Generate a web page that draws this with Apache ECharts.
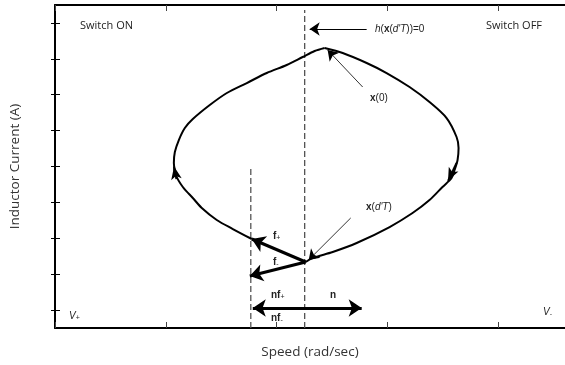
<!DOCTYPE html>
<html><head><meta charset="utf-8">
<script src="https://cdn.jsdelivr.net/npm/echarts@6/dist/echarts.min.js"></script>
<style>html,body{margin:0;padding:0;background:#fff}#c{width:565px;height:365px}</style>
</head><body><div id="c"></div><script>
// ---- data (axis units: x ticks every 1, y ticks at 0.5, 1.5, ... 8.5) ----
const yTickSlots = ['', '', '', '', '', '', '', '', ''];
// trajectory: from x(0) down the right side (switch OFF) to x(d'T)
const rightBranch = [
  [2.432,7.802],[2.595,7.662],[2.811,7.384],[2.991,7.105],[3.198,6.715],[3.378,6.297],
  [3.532,5.851],[3.622,5.322],[3.640,5.015],[3.631,4.681],[3.604,4.402],[3.577,4.179],
  [3.495,3.929],[3.378,3.566],[3.225,3.204],[3.018,2.814],[2.721,2.368],[2.505,2.118],
  [2.324,1.950],[2.261,1.839]
];
// trajectory: up the left side (switch ON) back to x(0)
const leftBranch = [
  [1.775,2.480],[1.604,2.758],[1.459,3.009],[1.324,3.344],[1.243,3.622],[1.153,3.929],
  [1.090,4.263],[1.072,4.597],[1.081,4.904],[1.117,5.238],[1.171,5.573],[1.243,5.823],
  [1.396,6.213],[1.550,6.548],[1.730,6.826],[1.910,7.105],[2.090,7.328],[2.234,7.551],
  [2.342,7.718],[2.432,7.802]
];
const switchSurface = [[2.252,0],[2.252,8.86]];
const fMinusBoundary = [[1.766,0],[1.766,4.458]];
const fPlusVector = [[2.261,1.839],[1.775,2.480]];
const fMinusVector = [[2.261,1.839],[1.757,1.449]];
const nVector = [[1.784,0.557],[2.766,0.557]];
const hPointer = [[2.811,8.331],[2.297,8.331]];
const x0Pointer = [[2.775,6.715],[2.459,7.746]];
const xdPointer = [[2.667,3.065],[2.288,1.895]];
// flow direction marks on the trajectory: [from, to]
const flowUp = [[1.095,4.15],[1.074,4.50]];
const flowDown = [[3.622,4.60],[3.545,4.10]];

// ---- chart ----
const txtFont = '"Liberation Sans", Arial, sans-serif';
const axFont = '"Open Sans", sans-serif';
const chart = echarts.init(document.getElementById('c'), null, {renderer:'canvas'});
const rich = {
  i:{fontStyle:'italic', fontSize:10, fontFamily:txtFont, fill:'#222'},
  b:{fontWeight:'bold', fontSize:10, fontFamily:txtFont, fill:'#222'},
  n:{fontSize:10, fontFamily:txtFont, fill:'#222'},
  s:{fontSize:7, fontFamily:txtFont, fill:'#222', verticalAlign:'bottom', padding:[4,0,0,0]}
};
function T(x, y, text, extra) {
  return Object.assign({type:'text', x:x, y:y, silent:true,
    style:Object.assign({text:text, rich:rich, verticalAlign:'middle', font:'10px '+txtFont, fill:'#222'}, extra||{})});
}
chart.setOption({
  animation:false,
  backgroundColor:'#fff',
  grid:{left:55, right:0, top:5, bottom:37, containLabel:false},
  xAxis:[
    {type:'value', min:0, max:4.6, interval:1, position:'bottom',
     axisLine:{show:true, onZero:false, lineStyle:{color:'#000', width:2}},
     axisTick:{show:true, inside:true, length:6, lineStyle:{color:'#444', width:1}},
     axisLabel:{show:false}, splitLine:{show:false},
     name:'Speed (rad/sec)', nameLocation:'middle', nameGap:17,
     nameTextStyle:{fontFamily:axFont, fontSize:13.5, color:'#333'}},
    {type:'value', min:0, max:4.6, interval:1, position:'top',
     axisLine:{show:true, onZero:false, lineStyle:{color:'#000', width:2}},
     axisTick:{show:true, inside:true, length:6, lineStyle:{color:'#444', width:1}},
     axisLabel:{show:false}, splitLine:{show:false}}
  ],
  yAxis:[
    {type:'value', min:0, max:9, show:false},
    {type:'category', data:yTickSlots, position:'left', boundaryGap:true,
     axisLine:{show:true, onZero:false, lineStyle:{color:'#000', width:2}},
     axisTick:{show:true, inside:true, alignWithLabel:true, interval:0, length:5, lineStyle:{color:'#000', width:1}},
     axisLabel:{show:false, interval:0}, splitLine:{show:false},
     name:'Inductor Current (A)', nameLocation:'middle', nameGap:33, nameRotate:90,
     nameTextStyle:{fontFamily:axFont, fontSize:13.5, color:'#333'}},
    {type:'category', data:yTickSlots, position:'right', boundaryGap:true,
     axisLine:{show:false},
     axisTick:{show:true, inside:true, alignWithLabel:true, interval:0, length:4, lineStyle:{color:'#000', width:1}},
     axisLabel:{show:false, interval:0}, splitLine:{show:false}}
  ],
  series:[
    {type:'line', data:switchSurface, showSymbol:false, silent:true,
     lineStyle:{color:'#555', width:1.3, type:[6,3]}, z:2},
    {type:'line', data:fMinusBoundary, showSymbol:false, silent:true,
     lineStyle:{color:'#555', width:1.3, type:[6,3]}, z:2},
    {type:'line', data:rightBranch, smooth:0.3, showSymbol:false, silent:true,
     lineStyle:{color:'#000', width:2}, z:3},
    {type:'line', data:leftBranch, smooth:0.3, showSymbol:false, silent:true,
     lineStyle:{color:'#000', width:2}, z:3},
    {type:'lines', coordinateSystem:'cartesian2d', silent:true, z:4,
     symbol:['none','arrow'], symbolSize:[0,[8,13]],
     lineStyle:{color:'#000', width:2, opacity:1, curveness:0},
     data:[{coords:flowUp},{coords:flowDown}]},
    {type:'lines', coordinateSystem:'cartesian2d', silent:true, z:5,
     symbol:['none','arrow'], symbolSize:13,
     lineStyle:{color:'#000', width:3, opacity:1, curveness:0},
     data:[{coords:fPlusVector},{coords:fMinusVector}]},
    {type:'lines', coordinateSystem:'cartesian2d', silent:true, z:5,
     symbol:['arrow','arrow'], symbolSize:13,
     lineStyle:{color:'#000', width:3, opacity:1, curveness:0},
     data:[{coords:nVector}]},
    {type:'lines', coordinateSystem:'cartesian2d', silent:true, z:5,
     symbol:['none','arrow'], symbolSize:10,
     lineStyle:{color:'#000', width:1.2, opacity:1, curveness:0},
     data:[{coords:hPointer}]},
    {type:'lines', coordinateSystem:'cartesian2d', silent:true, z:5,
     symbol:['none','arrow'], symbolSize:10,
     lineStyle:{color:'#000', width:0.8, opacity:1, curveness:0},
     data:[{coords:x0Pointer},{coords:xdPointer}]}
  ],
  graphic:[
    T(80, 26, 'Switch ON', {font:'11px '+axFont, fill:'#222'}),
    T(542, 26, 'Switch OFF', {font:'11px '+axFont, fill:'#222', align:'right'}),
    T(375, 29, "{i|h}{n|(}{b|x}{n|(}{i|d'T}{n|))=0}"),
    T(370, 98, '{b|x}{n|(0)}'),
    T(366, 207, "{b|x}{n|(}{i|d'T}{n|)}"),
    T(273, 236, '{b|f}{s|+}'),
    T(273, 262, '{b|f}{s|-}'),
    T(271, 295, '{b|nf}{s|+}'),
    T(330, 295, '{b|n}'),
    T(271, 318, '{b|nf}{s|-}'),
    T(69, 316, '{i|V}{s|+}'),
    T(543, 312, '{i|V}{s|-}')
  ]
});
</script></body></html>
